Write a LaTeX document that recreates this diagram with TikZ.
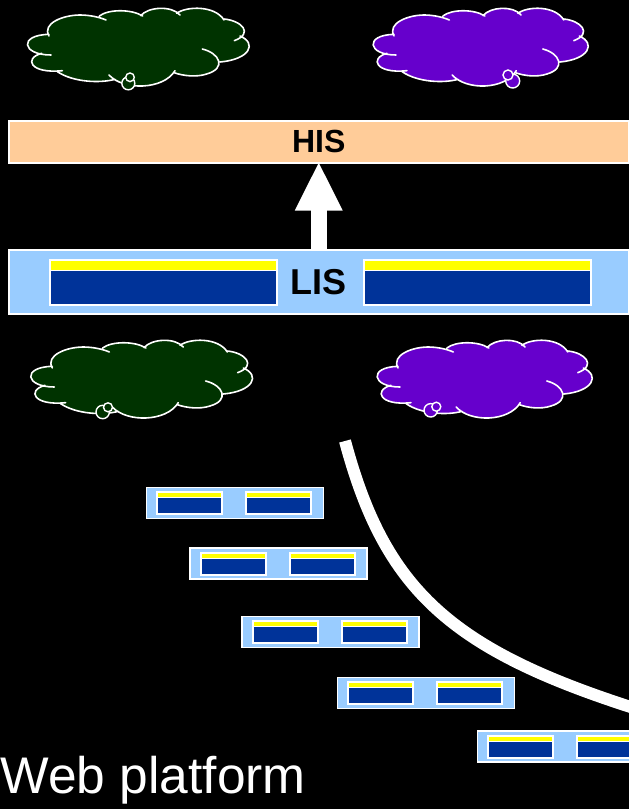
\documentclass[tikz,border=0pt]{standalone}
\usepackage{fontspec}
\setmainfont{Liberation Sans}
\usetikzlibrary{arrows.meta}
\definecolor{GRN}{HTML}{003300}
\definecolor{PUR}{HTML}{6600CC}
\definecolor{ORG}{HTML}{FFCC99}
\definecolor{SKY}{HTML}{99CCFF}
\definecolor{NAV}{HTML}{003399}
\definecolor{YEL}{HTML}{FFFF00}
\tikzset{
  BAR/.style={% Style for the long bars
      rectangle, line width=1.5pt,
      anchor=north west,
      inner sep=0pt,
      draw=white,
      text=black,
      font=\bfseries,
  },
  PART/.style={% Style for the parts of a slot
      rectangle,
      anchor=north west,
      inner sep=0pt,
      outer sep=0pt,
  },
  bubble/.style={draw=white, line width=1.4pt},
  feed/.style={white, line width=16pt, shorten >=-2pt, -{Triangle[length=49pt,width=44pt]}},
}
% outline of a cloud, #1 joins the lobes
\def\cloudoutline#1{
  (147,108) .. controls (125,70) and (190,45) .. (240,45) .. controls (270,45) and (300,52) .. (318,60)
  #1 (298,48) .. controls (325,27) and (395,27) .. (428,48)
  #1 (422,47) .. controls (445,20) and (515,16) .. (540,45)
  #1 (530,40) .. controls (560,18) and (645,16) .. (672,60)
  #1 (672,57) .. controls (725,62) and (762,100) .. (703,122)
  #1 (720,108) .. controls (772,130) and (750,178) .. (660,186)
  #1 (607,147) .. controls (660,160) and (680,205) .. (620,222) .. controls (590,232) and (550,228) .. (522,218)
  #1 (525,212) .. controls (490,270) and (370,272) .. (327,225)
  #1 (345,238) .. controls (300,250) and (220,247) .. (172,215)
  #1 (187,212) .. controls (90,222) and (70,175) .. (125,160)
  #1 (153,165) .. controls (65,165) and (55,105) .. (147,103)
}
\def\cloud(#1)#2[#3]#4{%
  \begin{scope}[shift={(#1)}, xscale=#2/3, yscale=1/3]
      \fill[#3] \cloudoutline{--} -- cycle;
      \draw[white, line width=1.6pt, line cap=round] \cloudoutline{};
  \end{scope}
  \foreach \bx/\by/\br in {#4} {% small bubbles at the rim
      \draw[bubble, fill=#3] (\bx,\by) circle[radius=\br];
  }
}
\def\slot(#1)#2#3#4#5{%
  \begin{scope}[shift={(#1)}]
      \node[PART, fill=white, minimum width=#3 pt, minimum height=#4 pt] (#2) at (0,0) {};
      \node[PART, fill=YEL, minimum width=#3 pt-4pt, minimum height=#5 pt] (#2y) at (2,2) {};
      \node[PART, fill=NAV, minimum width=#3 pt-4pt, minimum height=#4 pt-#5 pt-5pt] (#2b) at (2,#5+3) {};
  \end{scope}
}
\def\rack(#1)#2{%
  \begin{scope}[shift={(#1)}]
      \node[BAR, fill=SKY, minimum width=177pt, minimum height=31pt] (#2) at (0,0) {};
      \slot(10.5,4.5){#2l}{67}{24}{4}
      \slot(99.5,4.5){#2r}{67}{24}{4}
  \end{scope}
}
\begin{document}
\begin{tikzpicture}[x=1pt,y=-1pt]
    \useasboundingbox (0,0) rectangle (629,809);
    \fill[black] (0,0) rectangle (629,809);
    \cloud(0,0){1}[GRN]{128.3/83.3/6.5, 130/77.3/4.3}
    \cloud(346.5,0){0.97}[PUR]{512.7/81/7, 508/75/5}
    \cloud(3.3,332){1}[GRN]{102.7/412/6.7, 108/407.3/4.5}
    \cloud(350.5,332){0.97}[PUR]{430.7/410.3/6.7, 436.3/406.7/4.5}

    \node[BAR, fill=ORG, minimum width=620pt, minimum height=42pt,
      font=\bfseries\fontsize{32}{36}\selectfont] (HIS) at (8,120) {HIS};
    \node[BAR, fill=SKY, minimum width=620pt, minimum height=64pt,
      font=\bfseries\fontsize{36}{40}\selectfont] (LIS) at (8,249) {LIS};
    \slot(48.5,258.5){LISl}{229}{47}{9}
    \slot(362.5,258.5){LISr}{229}{47}{9}
    \draw[feed] (LIS.north) -- (HIS.south);

    \rack(145.5,486.5){rackA}
    \rack(189,547){rackB}
    \rack(241,615.5){rackC}
    \rack(336.5,676.5){rackD}
    \rack(476.5,730){rackE}

    \draw[white, line width=12pt] (345,441) .. controls (385,590) and (450,650) .. (640,710);

    \node[anchor=base west, inner sep=0pt, text=white,
      font=\fontsize{51.5}{60}\selectfont] (platform) at (0.3,793) {Web platform};
\end{tikzpicture}
\end{document}
